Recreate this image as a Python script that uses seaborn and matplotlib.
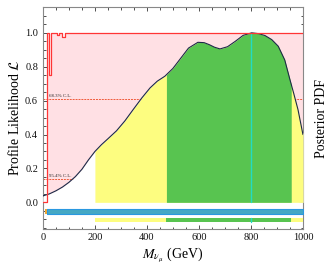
import numpy as np
import pandas as pd
import matplotlib
matplotlib.use("Agg")
import matplotlib.pyplot as plt
import seaborn as sns
from matplotlib.ticker import MultipleLocator

# posterior PDF
mass_pts = [0, 25, 50, 75, 100, 125, 150, 175, 200, 225, 250, 283, 315, 347,
            380, 412, 440, 469, 500, 530, 560, 596, 620, 640, 660, 681, 710,
            740, 770, 803, 830, 854, 880, 905, 930, 950, 965, 981, 1000]
pdf_vals = [0.038, 0.05, 0.068, 0.09, 0.118, 0.152, 0.195, 0.25, 0.30, 0.34,
            0.375, 0.422, 0.48, 0.547, 0.615, 0.675, 0.715, 0.744, 0.79, 0.85,
            0.91, 0.944, 0.942, 0.93, 0.915, 0.905, 0.918, 0.95, 0.985, 1.0,
            0.995, 0.984, 0.96, 0.921, 0.84, 0.724, 0.64, 0.547, 0.40]

# profile likelihood (step curve)
prof_x = [0, 14, 23, 33, 55, 63, 72, 85, 1000]
prof_y = [0, 1.0, 0.75, 1.0, 0.986, 1.0, 0.976, 1.0, 1.0]

# confidence / credible levels and intervals
cl_levels = [0.607, 0.135]
cl_labels = ["68.3% C.L.", "95.4% C.L."]
prof_interval = (14, 1000)
prof_interval_extra = (8, 14)
cred_68 = (475, 955)
cred_95 = (200, 1000)
best_fit = 800

sns.set_theme(style="ticks")
plt.rcParams["font.family"] = ["Liberation Serif", "DejaVu Serif"]
plt.rcParams["mathtext.fontset"] = "stix"

YELLOW = "#fdfd80"
GREEN = "#58c450"
PINK = "#ffe0e4"
RED = "#ff3535"
CYAN = "#22dcc4"

fig = plt.figure(figsize=(3.3, 2.64), dpi=100)
ax = fig.add_axes([0.130, 0.134, 0.788, 0.838])

# pink profile-likelihood fill
ax.fill_between(prof_x, 0, prof_y, step="post", color=PINK, lw=0, zorder=1)

# C.L. lines
for lev, lab in zip(cl_levels, cl_labels):
    ax.axhline(lev, color="#f05a3a", lw=0.7, ls=(0, (2, 1)), zorder=2)
    ax.text(22, lev + 0.012, lab, fontsize=3.5, color="#222222", zorder=2)

# posterior fill
xx = np.linspace(0, 1000, 1001)
yy = np.interp(xx, mass_pts, pdf_vals)
ax.fill_between(xx, 0, yy, color="white", lw=0, zorder=3)
m95 = (xx >= cred_95[0]) & (xx <= cred_95[1])
ax.fill_between(xx, 0, yy, where=m95, color=YELLOW, lw=0, zorder=3)
m68 = (xx >= cred_68[0]) & (xx <= cred_68[1])
ax.fill_between(xx, 0, yy, where=m68, color=GREEN, lw=0, zorder=3)

df_post = pd.DataFrame({"m": mass_pts, "pdf": pdf_vals})
sns.lineplot(data=df_post, x="m", y="pdf", ax=ax, color="#1c2a48", lw=0.8,
             zorder=5, sort=True)

df_prof = pd.DataFrame({"m": prof_x, "L": prof_y})
sns.lineplot(data=df_prof, x="m", y="L", ax=ax, color=RED, lw=0.9,
             drawstyle="steps-post", zorder=6)

# best-fit line
ax.plot([best_fit, best_fit], [0, 1.0], color=CYAN, lw=1.0, zorder=4)

# interval bars below
ax.fill_between(prof_interval_extra, -0.068, -0.041, color="#f0a830", lw=0, zorder=3)
ax.fill_between(prof_interval, -0.068, -0.041, facecolor="#45a8c4",
                edgecolor="#2a98e0", lw=0.8, zorder=3)
ax.fill_between(cred_95, -0.118, -0.09, color=YELLOW, lw=0, zorder=3)
ax.fill_between(cred_68, -0.118, -0.09, color=GREEN, lw=0, zorder=3)
ax.plot([best_fit, best_fit], [-0.118, -0.09], color=CYAN, lw=1.0, zorder=4)

ax.set_xlim(0, 1000)
ax.set_ylim(-0.155, 1.15)
ax.set_xticks([0, 200, 400, 600, 800, 1000])
ax.set_yticks([0.0, 0.2, 0.4, 0.6, 0.8, 1.0])
ax.set_yticklabels(["0.0", "0.2", "0.4", "0.6", "0.8", "1.0"])
ax.xaxis.set_minor_locator(MultipleLocator(50))
ax.yaxis.set_minor_locator(MultipleLocator(0.05))
ax.tick_params(which="both", direction="in", top=True, right=True,
               labelsize=7.5, colors="#333333", labelcolor="#111111", width=0.6)
ax.tick_params(which="major", length=3)
ax.tick_params(which="minor", length=1.8)
for s in ax.spines.values():
    s.set_color("#888888")
    s.set_linewidth(0.8)

ax.set_xlabel(r"$M_{\nu_\mu}$ (GeV)", fontsize=10, labelpad=2, color="black")
ax.set_ylabel(r"Profile Likelihood $\mathcal{L}$", fontsize=10, labelpad=2,
              color="black")
fig.text(0.975, 0.55, "Posterior PDF", rotation=90, fontsize=10,
         ha="center", va="center", color="black")

fig.savefig("out.png", dpi=100)
